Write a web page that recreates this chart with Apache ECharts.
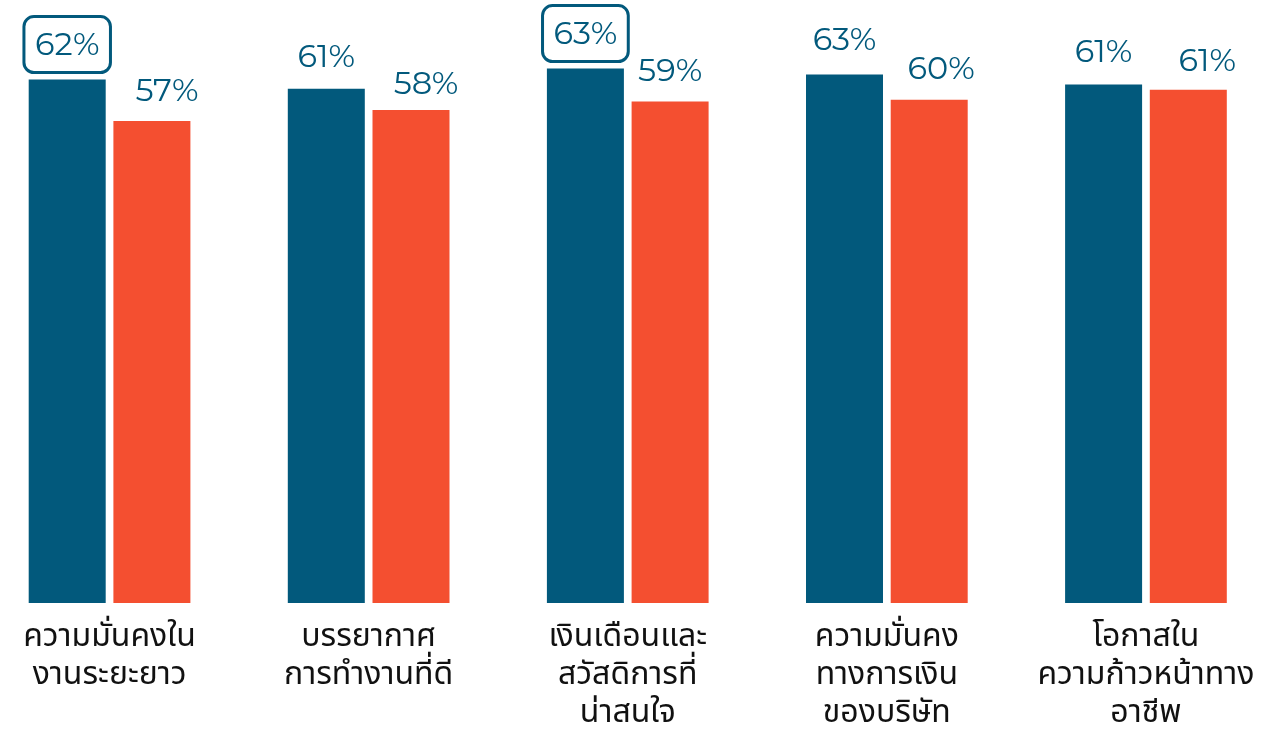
<!DOCTYPE html>
<html>
<head>
<meta charset="utf-8">
<script src="https://cdn.jsdelivr.net/npm/echarts@6/dist/echarts.min.js"></script>
<style>
html,body{margin:0;padding:0;background:#fff;}
#chart{width:1276px;height:729px;}
</style>
</head>
<body>
<div id="chart"></div>
<script>
const categories = [
  'ความมั่นคงใน\nงานระยะยาว',
  'บรรยากาศ\nการทำงานที่ดี',
  'เงินเดือนและ\nสวัสดิการที่\nน่าสนใจ',
  'ความมั่นคง\nทางการเงิน\nของบริษัท',
  'โอกาสใน\nความก้าวหน้าทาง\nอาชีพ'
];
const seriesA = [62.0, 60.9, 63.3, 62.6, 61.4];
const seriesB = [57.1, 58.4, 59.4, 59.6, 60.8];
const highlightedA = [0, 2];

// hand-placed label nudges seen in the original (layout, pixels)
const nudgeA = [[0, 0], [0, -1], [0, 0], [0, -4], [0, -2]];
const nudgeB = [[15, 1], [15, 5], [0, 0], [12, 0], [19, 2]];

const BLUE = '#02597c';
const ORANGE = '#f44f30';
const FONT = 'Montserrat, Lato, Inter, "Noto Sans", sans-serif';

const labelBase = {
  show: true,
  position: 'top',
  distance: 14,
  color: BLUE,
  fontFamily: FONT,
  fontSize: 32,
  fontWeight: 400,
  formatter: p => Math.round(p.value) + '%'
};

const dataA = seriesA.map((v, i) => {
  if (highlightedA.includes(i)) {
    return {
      value: v,
      label: {
        borderColor: BLUE,
        borderWidth: 3,
        borderRadius: 10,
        padding: [13, 11, 11, 11],
        distance: 7,
        offset: nudgeA[i]
      }
    };
  }
  return { value: v, label: { offset: nudgeA[i] } };
});
const dataB = seriesB.map((v, i) => ({ value: v, label: { offset: nudgeB[i] } }));

const chart = echarts.init(document.getElementById('chart'));
chart.setOption({
  animation: false,
  backgroundColor: '#ffffff',
  grid: { left: -20, right: 0.5, top: 12, bottom: 126, containLabel: false, outerBoundsMode: 'none' },
  xAxis: {
    type: 'category',
    data: categories,
    axisLine: { show: false },
    axisTick: { show: false },
    axisLabel: {
      color: '#111111',
      fontFamily: '"Noto Sans Thai", "Noto Sans", Lato, sans-serif',
      fontSize: 32,
      lineHeight: 38,
      margin: 18,
      interval: 0
    }
  },
  yAxis: {
    type: 'value',
    min: 0,
    max: 70,
    show: false,
    splitLine: { show: false }
  },
  series: [
    {
      type: 'bar',
      data: dataA,
      barWidth: 77,
      barGap: '10%',
      itemStyle: { color: BLUE },
      label: labelBase
    },
    {
      type: 'bar',
      data: dataB,
      barWidth: 77,
      itemStyle: { color: ORANGE },
      label: labelBase
    }
  ]
});
</script>
</body>
</html>
